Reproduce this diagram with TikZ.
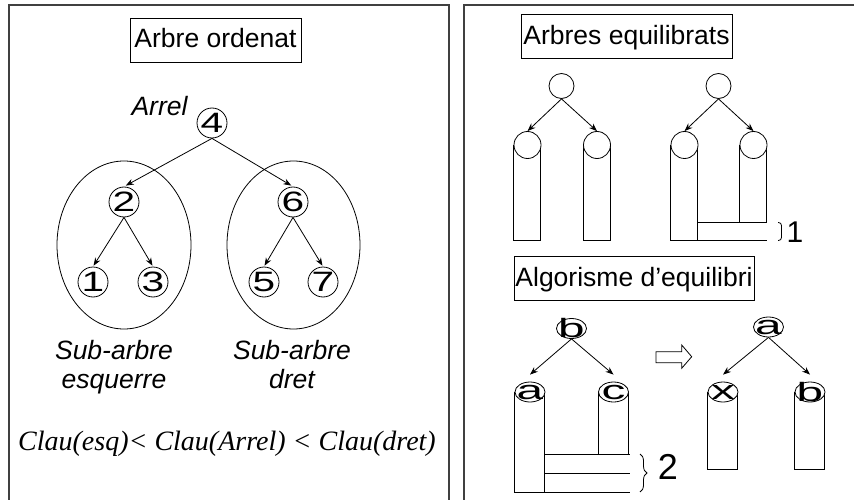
\documentclass[tikz,border=0pt]{standalone}
\usepackage{fontspec}
\setmainfont{Liberation Sans}
\newfontfamily\clau{Liberation Serif}
\newfontfamily\widedigit{Liberation Sans}[FakeStretch=1.45]
\newfontfamily\wideletter{Liberation Sans}[FakeStretch=1.8]
\usetikzlibrary{positioning, arrows.meta, calc, shapes.geometric, decorations.pathreplacing, backgrounds}

\begin{document}
\begin{tikzpicture}[
    x=1pt, y=-1pt, on grid,
    font=\fontsize{26.5pt}{29pt}\selectfont,
    panel/.style={line width=1.6pt, black!75},
    title/.style={rectangle, draw, line width=0.8pt, inner xsep=1pt,
                  minimum height=44pt, text height=19pt, text depth=3pt},
    num/.style={circle, draw, line width=0.8pt, minimum size=30pt, inner sep=0pt,
                font=\widedigit\fontsize{28pt}{30pt}\selectfont},
    knot/.style={circle, draw, fill=white, line width=0.8pt,
                 minimum size=27pt, inner sep=0pt},
    lbl/.style={ellipse, draw, fill=white, line width=0.8pt,
                minimum width=30pt, minimum height=20pt, inner sep=0pt},
    key/.style={font=\wideletter\fontsize{26.5pt}{29pt}\selectfont},
    col/.style={draw, line width=0.8pt},
    note/.style={font=\fontsize{26.5pt}{29pt}\selectfont\itshape, align=center},
    arrow/.style={-{Stealth[length=8pt, width=6pt]}, line width=0.8pt}
]
  \useasboundingbox (0,0) rectangle (854,500);

  % two panels
  \draw[panel] (9,500) |- (449,5) -- (449,500);
  \draw[panel] (464,500) |- (854,5);

  % Left: ordered tree
  \node[title, minimum width=171pt] (t1) at (215.5,40) {Arbre ordenat};
  \node[num] (n4) at (212,123) {4};
  \node[note, anchor=base] (arrel) at (159.5,116) {Arrel};
  \node[num, below left=79pt and 88pt of n4] (n2) {2};
  \node[num, below right=79pt and 81pt of n4] (n6) {6};
  \node[num, below left=80pt and 31pt of n2] (n1) {1};
  \node[num, below right=80pt and 29pt of n2] (n3) {3};
  \node[num, below left=80pt and 29pt of n6] (n5) {5};
  \node[num, below right=80pt and 30pt of n6] (n7) {7};

  \draw[line width=0.8pt] (124,245) ellipse [x radius=67pt, y radius=84pt];
  \draw[line width=0.8pt] (293.5,245) ellipse [x radius=66.5pt, y radius=84pt];

  \draw[arrow, shorten >=2pt] (n4.south) -- (n2.north);
  \draw[arrow, shorten >=2pt] (n4.south) -- (n6.north);
  \draw[arrow, shorten >=1pt] (n2.south) -- (n1.north);
  \draw[arrow, shorten >=1pt] (n2.south) -- (n3.north);
  \draw[arrow, shorten >=1pt] (n6.south) -- (n5.north);
  \draw[arrow, shorten >=1pt] (n6.south) -- (n7.north);

  \node[note] (sube) at (114,367.5) {Sub-arbre\\esquerre};
  \node[note] (subd) at (292,364.8) {Sub-arbre\\dret};
  \node[anchor=base west, inner sep=0pt,
        font=\clau\itshape\fontsize{28pt}{30pt}\selectfont] (clau) at (18,450)
        {Clau(esq)< Clau(Arrel) < Clau(dret)};

  % Right top: balanced trees
  \node[title, minimum width=211pt] (t2) at (626.5,36.5) {Arbres equilibrats};
  \node[knot, minimum size=25pt] (r1) at (561.5,86) {};
  \node[knot, below left=59pt and 34pt of r1] (r1l) {};
  \node[knot, below right=59pt and 35.5pt of r1] (r1r) {};
  \node[knot, minimum size=25pt] (r2) at (718.5,86) {};
  \node[knot, below left=59pt and 34pt of r2] (r2l) {};
  \node[knot, below right=59pt and 35pt of r2] (r2r) {};

  \draw[arrow] (r1.south) -- (r1l.north);
  \draw[arrow] (r1.south) -- (r1r.north);
  \draw[arrow] (r2.south) -- (r2l.north);
  \draw[arrow] (r2.south) -- (r2r.north);

  \draw[col] (r2l.east) ++(0,77.5) -- ++(69,0);
  \draw[col] (r2l.east) ++(0,95.5) -- ++(69,0);
  \draw[col, rounded corners=3pt] (778,222.5) -| (781.5,231.5) |- (778,240.5);
  \node[font=\fontsize{30pt}{32pt}\selectfont] (one) at (795,232) {1};

  % Right bottom: balancing
  \node[title, minimum width=240pt] (t3) at (634,278.3) {Algorisme d’equilibri};
  \node[lbl, label={[key]center:b}] (pb) at (571.5,328.5) {};
  \node[lbl, label={[key]center:a}, below left=63.5pt and 41.5pt of pb] (pa) {};
  \node[lbl, label={[key]center:c}, below right=63.5pt and 42pt of pb] (pc) {};

  \draw[arrow] (pb.south) -- ([yshift=7pt]pa.north);
  \draw[arrow] (pb.south) -- ([yshift=7pt]pc.north);

  \draw[col] (pa.east) ++(0,62) -- ++(85,0);
  \draw[col] (pa.east) ++(0,81) -- ++(85,0);
  \draw[col] (pa.west) ++(0,100) -- ++(115,0);
  \draw[col, decorate, decoration={brace, amplitude=7pt}] (640,454) -- (640,492);
  \node[font=\fontsize{36pt}{38pt}\selectfont] (two) at (668,467) {2};

  \draw[col] (656,351.7) -- ++(25.7,0) -- ++(0,-6.7) -- (691.7,356.7)
    -- (681.7,368.3) -- ++(0,-5.6) -- (656,362.7) -- cycle;

  \node[lbl, label={[key]center:a}] (qa) at (768.5,327) {};
  \node[lbl, label={[key]center:x}, below left=65pt and 45.5pt of qa] (qx) {};
  \node[lbl, label={[key]center:b}, below right=65pt and 41.5pt of qa] (qb) {};

  \draw[arrow] (qa.south) -- ([yshift=7pt]qx.north);
  \draw[arrow] (qa.south) -- ([yshift=7pt]qb.north);

  \begin{scope}[on background layer]
    \draw[col] (r1l.west) rectangle ++(27,95);
    \draw[col] (r1r.west) rectangle ++(27,95);
    \draw[col] (r2l.west) rectangle ++(27,95.5);
    \draw[col] (r2r.west) rectangle ++(27,77.5);
    \draw[col] (pa.west) rectangle ++(30,100);
    \draw[col] (pc.west) rectangle ++(30,62);
    \draw[col] (qx.west) rectangle ++(30,77);
    \draw[col] (qb.west) rectangle ++(30,77);
  \end{scope}
\end{tikzpicture}
\end{document}
